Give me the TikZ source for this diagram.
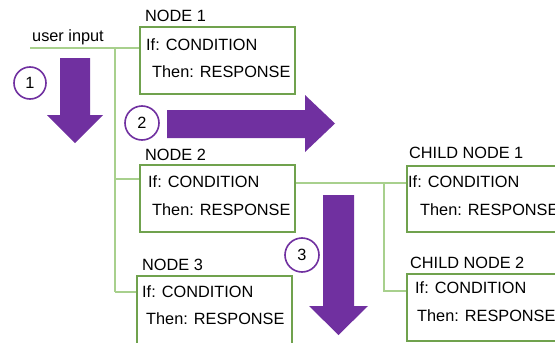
\documentclass[tikz,border=0pt]{standalone}
\usepackage{fontspec}
\setmainfont{Liberation Sans}
\definecolor{boxgreen}{HTML}{70A24E}
\definecolor{linegreen}{HTML}{A8D08D}
\definecolor{flowpurple}{HTML}{7030A0}
\tikzset{
  rulebox/.style={draw=boxgreen, line width=1.6pt, fill=white, rectangle, inner sep=0pt},
  link/.style={draw=linegreen, line width=1.6pt},
  txt/.style={font=\fontsize{16.3}{18}\selectfont, inner sep=0pt, anchor=mid west, yshift=-2.5pt},
  bigarrow/.style={fill=flowpurple, draw=none},
  stepmark/.style={circle, draw=flowpurple, line width=1.6pt, fill=white, minimum size=#1, inner sep=0pt, font=\fontsize{16.3}{18}\selectfont}
}
\begin{document}
\begin{tikzpicture}[x=1pt,y=-1pt]
\useasboundingbox (0,0) rectangle (555,343);
\clip (0,0) rectangle (555,343);

% input line and trunk
\coordinate (ui) at (30,48);
\coordinate (trunk) at (115,48);
\node[txt] (uitext) at (32,36) {user input};

% rule boxes
\node[rulebox, minimum width=155pt, minimum height=67pt] (n1) at (217.5,60.5) {};
\node[rulebox, minimum width=155pt, minimum height=67pt] (n2) at (217.5,198.5) {};
\node[rulebox, minimum width=155pt, minimum height=75pt] (n3) at (214.5,313.5) {};
\node[rulebox, minimum width=158pt, minimum height=66pt] (c1) at (486,199) {};
\node[rulebox, minimum width=158pt, minimum height=67pt] (c2) at (486,307.5) {};

% connectors
\draw[link] (ui) -- (ui -| n1.west);
\coordinate (b2) at (115,179);
\coordinate (b3) at (115,292);
\draw[link] (trunk) -- (b3);
\draw[link] (b2) -- (b2 -| n2.west);
\draw[link] (b3) -- (b3 -| n3.west);
\coordinate (o2) at (295,183);
\coordinate (split) at (384,183);
\coordinate (s2) at (384,291);
\draw[link] (o2 -| n2.east) -- (o2 -| c1.west);
\draw[link] (split) -- (s2) -- (s2 -| c2.west);

% titles
\node[txt] (t1) at (145,16) {NODE 1};
\node[txt] (t2) at (145,155) {NODE 2};
\node[txt] (t3) at (142,265) {NODE 3};
\node[txt] (t4) at (409,153) {CHILD NODE 1};
\node[txt] (t5) at (410,263) {CHILD NODE 2};

% box contents
\node[txt] at (146,45) {If: CONDITION};
\node[txt] at (152,72) {Then: RESPONSE};
\node[txt] at (148,182) {If: CONDITION};
\node[txt] at (152,210) {Then: RESPONSE};
\node[txt] at (142,292) {If: CONDITION};
\node[txt] at (146,319) {Then: RESPONSE};
\node[txt] at (408,182) {If: CONDITION};
\node[txt] at (420,210) {Then: RESPONSE};
\node[txt] at (415,288) {If: CONDITION};
\node[txt] at (417,316) {Then: RESPONSE};

% process arrows
\fill[bigarrow] (60,58) -- (90,58) -- (90,115) -- (103,115) -- (75,143) -- (47,115) -- (60,115) -- cycle;
\fill[bigarrow] (167,110) -- (305,110) -- (305,95) -- (335,123.5) -- (305,152) -- (305,138) -- (167,138) -- cycle;
\fill[bigarrow] (323,195) -- (354,195) -- (354,306) -- (368,306) -- (338.5,335) -- (309,306) -- (323,306) -- cycle;

% step markers
\node[stepmark=32pt] (m1) at (30,83) {1};
\node[stepmark=34pt] (m2) at (142,123) {2};
\node[stepmark=34pt] (m3) at (302,255) {3};
\end{tikzpicture}
\end{document}
